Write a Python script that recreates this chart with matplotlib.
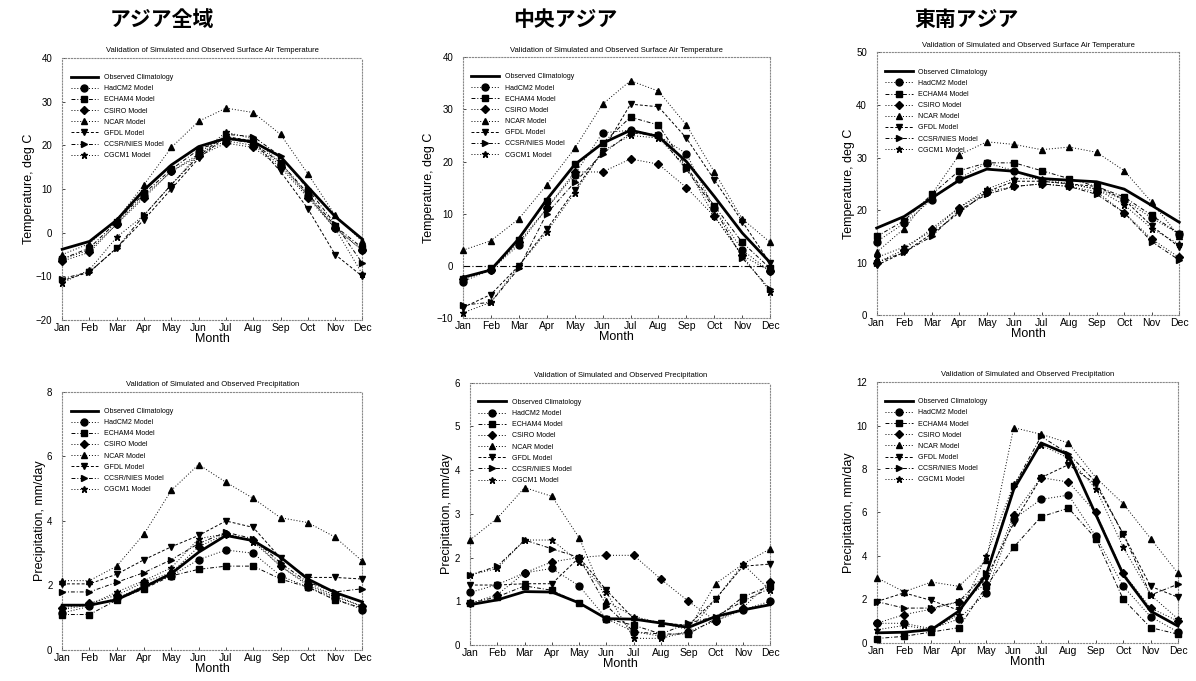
import matplotlib
matplotlib.use("Agg")
import matplotlib.pyplot as plt

plt.rcParams['font.family'] = ['Liberation Sans', 'DejaVu Sans']

months = ["Jan", "Feb", "Mar", "Apr", "May", "Jun", "Jul", "Aug", "Sep", "Oct", "Nov", "Dec"]
series_names = ["Observed Climatology", "HadCM2 Model", "ECHAM4 Model", "CSIRO Model",
                "NCAR Model", "GFDL Model", "CCSR/NIES Model", "CGCM1 Model"]
column_titles = ["アジア全域", "中央アジア", "東南アジア"]
temp_title = "Validation of Simulated and Observed Surface Air Temperature"
prec_title = "Validation of Simulated and Observed Precipitation"

# ---- Asia whole, temperature ----
t_asia_obs   = [-3.8, -2.0, 2.9, 9.8, 15.5, 19.7, 21.6, 20.8, 17.4, 10.5, 3.7, -1.5]
t_asia_had   = [-6.0, -4.0, 2.0, 8.5, 14.0, 18.0, 21.0, 20.0, 15.5, 8.5, 1.0, -4.0]
t_asia_ech   = [-6.0, -3.5, 2.5, 9.0, 14.5, 19.0, 21.5, 20.5, 16.0, 9.0, 1.5, -3.5]
t_asia_csi   = [-6.5, -4.5, 2.0, 8.0, 14.0, 17.5, 20.5, 19.5, 15.0, 8.0, 1.0, -4.0]
t_asia_ncar  = [-5.0, -2.5, 3.0, 11.0, 19.5, 25.5, 28.5, 27.5, 22.5, 13.5, 4.0, -2.0]
t_asia_gfdl  = [-11.0, -9.0, -3.5, 3.0, 10.0, 17.0, 22.0, 21.0, 14.0, 5.5, -5.0, -10.0]
t_asia_ccsr  = [-10.5, -9.0, -3.5, 4.0, 11.0, 17.5, 22.5, 22.0, 17.5, 10.0, 2.0, -7.0]
t_asia_cgcm  = [-11.5, -8.5, -1.0, 4.0, 11.0, 18.0, 23.0, 21.5, 16.0, 8.5, 1.0, -9.5]

# ---- Central Asia, temperature ----
t_cen_obs  = [-2.2, -0.8, 5.2, 12.7, 19.4, 23.5, 26.0, 24.8, 20.0, 13.3, 6.3, 0.6]
t_cen_had  = [-3.0, -0.8, 4.0, 11.0, 17.5, 25.5, 26.0, 25.0, 21.5, 11.0, 3.0, -1.0]
t_cen_ech  = [-2.5, -0.5, 5.0, 12.5, 19.5, 23.5, 28.5, 27.0, 19.0, 11.5, 4.5, -0.5]
t_cen_csi  = [-2.5, -0.8, 4.5, 11.0, 18.0, 18.0, 20.5, 19.5, 15.0, 9.5, 2.0, -1.0]
t_cen_ncar = [3.0, 4.8, 9.0, 15.5, 22.5, 31.0, 35.5, 33.5, 27.0, 18.0, 9.0, 4.5]
t_cen_gfdl = [-8.0, -5.5, 0.0, 7.0, 14.5, 22.0, 31.0, 30.5, 24.5, 16.5, 8.5, 0.5]
t_cen_ccsr = [-7.5, -7.0, -0.5, 10.0, 16.0, 21.5, 25.5, 25.0, 18.5, 11.0, 1.5, -4.5]
t_cen_cgcm = [-9.0, -7.0, 0.0, 6.5, 14.0, 22.0, 25.0, 24.5, 19.0, 9.5, 2.0, -5.0]

# ---- Southeast Asia, temperature ----
t_se_obs  = [16.6, 18.8, 22.3, 25.7, 27.8, 27.4, 26.0, 25.7, 25.4, 24.0, 20.9, 17.7]
t_se_had  = [14.0, 17.5, 22.0, 26.0, 29.0, 27.5, 25.5, 25.0, 24.0, 22.0, 18.5, 15.5]
t_se_ech  = [15.0, 18.0, 23.0, 27.5, 29.0, 29.0, 27.5, 26.0, 24.5, 22.5, 19.0, 15.5]
t_se_csi  = [10.0, 12.5, 16.5, 20.5, 23.5, 24.5, 25.0, 24.5, 23.5, 19.5, 14.5, 11.0]
t_se_ncar = [12.0, 16.5, 23.0, 30.5, 33.0, 32.5, 31.5, 32.0, 31.0, 27.5, 21.5, 15.0]
t_se_gfdl = [9.5, 12.0, 15.5, 19.5, 23.5, 25.5, 25.5, 25.0, 24.5, 22.0, 17.0, 13.0]
t_se_ccsr = [10.0, 12.0, 15.0, 20.0, 23.0, 24.5, 25.0, 24.5, 23.0, 19.5, 14.0, 10.5]
t_se_cgcm = [11.0, 13.0, 16.0, 20.5, 24.0, 26.0, 26.0, 25.0, 24.0, 21.0, 16.5, 13.5]

# ---- Asia whole, precipitation ----
p_asia_obs  = [1.39, 1.39, 1.56, 1.95, 2.37, 3.03, 3.55, 3.39, 2.88, 2.20, 1.78, 1.49]
p_asia_had  = [1.15, 1.35, 1.60, 2.00, 2.30, 2.80, 3.10, 3.00, 2.30, 1.95, 1.60, 1.25]
p_asia_ech  = [1.10, 1.10, 1.55, 1.90, 2.30, 2.50, 2.60, 2.60, 2.20, 1.95, 1.55, 1.30]
p_asia_csi  = [1.30, 1.45, 1.70, 2.10, 2.40, 3.20, 3.60, 3.40, 2.60, 2.05, 1.70, 1.35]
p_asia_ncar = [2.15, 2.15, 2.60, 3.60, 4.95, 5.75, 5.20, 4.70, 4.10, 3.95, 3.50, 2.75]
p_asia_gfdl = [2.05, 2.05, 2.35, 2.80, 3.20, 3.55, 4.00, 3.80, 2.85, 2.25, 2.25, 2.20]
p_asia_ccsr = [1.80, 1.80, 2.10, 2.40, 2.80, 3.30, 3.65, 3.45, 2.70, 2.10, 1.80, 1.90]
p_asia_cgcm = [1.25, 1.40, 1.80, 2.15, 2.55, 3.45, 3.60, 3.35, 2.60, 2.00, 1.65, 1.35]

# ---- Central Asia, precipitation ----
p_cen_obs  = [0.92, 1.03, 1.22, 1.21, 0.96, 0.60, 0.59, 0.50, 0.40, 0.65, 0.80, 0.92]
p_cen_had  = [1.20, 1.38, 1.65, 1.75, 1.35, 0.60, 0.30, 0.20, 0.30, 0.55, 0.80, 1.00]
p_cen_ech  = [0.95, 1.10, 1.35, 1.25, 0.95, 0.60, 0.45, 0.25, 0.25, 0.60, 1.10, 1.35]
p_cen_csi  = [0.95, 1.15, 1.65, 1.90, 2.00, 2.05, 2.05, 1.50, 1.00, 0.55, 0.85, 1.45]
p_cen_ncar = [2.40, 2.90, 3.60, 3.40, 2.45, 1.00, 0.65, 0.50, 0.35, 1.40, 1.85, 2.20]
p_cen_gfdl = [1.37, 1.37, 1.40, 1.40, 2.00, 1.25, 0.60, 0.50, 0.45, 1.05, 1.80, 1.85]
p_cen_ccsr = [1.60, 1.80, 2.40, 2.20, 2.00, 0.90, 0.30, 0.25, 0.50, 0.65, 1.00, 1.30]
p_cen_cgcm = [1.60, 1.75, 2.40, 2.40, 1.90, 1.20, 0.15, 0.15, 0.30, 1.05, 1.85, 1.25]

# ---- Southeast Asia, precipitation ----
p_se_obs  = [0.46, 0.49, 0.61, 1.46, 3.14, 7.05, 9.20, 8.66, 5.90, 3.14, 1.46, 0.77]
p_se_had  = [0.90, 0.90, 0.65, 1.10, 2.30, 5.70, 6.60, 6.80, 4.90, 2.60, 1.20, 0.50]
p_se_ech  = [0.20, 0.30, 0.50, 0.70, 2.60, 4.40, 5.80, 6.20, 4.80, 2.00, 0.70, 0.40]
p_se_csi  = [0.90, 1.30, 1.55, 1.90, 2.70, 5.90, 7.60, 7.40, 6.00, 3.20, 1.60, 1.00]
p_se_ncar = [3.00, 2.35, 2.80, 2.60, 3.80, 9.90, 9.60, 9.20, 7.60, 6.40, 4.80, 3.20]
p_se_gfdl = [1.90, 2.30, 1.95, 1.50, 3.00, 5.50, 7.60, 8.20, 7.30, 5.00, 2.60, 2.10]
p_se_ccsr = [1.90, 1.60, 1.60, 1.90, 3.20, 7.20, 9.50, 8.70, 7.40, 5.00, 2.20, 2.70]
p_se_cgcm = [0.60, 0.80, 0.60, 1.30, 4.00, 7.30, 9.10, 8.50, 7.10, 4.40, 2.20, 1.10]

panels = [
    dict(data=[t_asia_obs, t_asia_had, t_asia_ech, t_asia_csi, t_asia_ncar, t_asia_gfdl, t_asia_ccsr, t_asia_cgcm],
         title=temp_title, ylabel="Temperature, deg C", ylim=(-20, 40), yticks=[-20, -10, 0, 10, 20, 30, 40],
         pos=[0.052, 0.530, 0.251, 0.385], zero=False),
    dict(data=[t_cen_obs, t_cen_had, t_cen_ech, t_cen_csi, t_cen_ncar, t_cen_gfdl, t_cen_ccsr, t_cen_cgcm],
         title=temp_title, ylabel="Temperature, deg C", ylim=(-10, 40), yticks=[-10, 0, 10, 20, 30, 40],
         pos=[0.387, 0.533, 0.257, 0.383], zero=True),
    dict(data=[t_se_obs, t_se_had, t_se_ech, t_se_csi, t_se_ncar, t_se_gfdl, t_se_ccsr, t_se_cgcm],
         title=temp_title, ylabel="Temperature, deg C", ylim=(0, 50), yticks=[0, 10, 20, 30, 40, 50],
         pos=[0.733, 0.537, 0.253, 0.386], zero=False),
    dict(data=[p_asia_obs, p_asia_had, p_asia_ech, p_asia_csi, p_asia_ncar, p_asia_gfdl, p_asia_ccsr, p_asia_cgcm],
         title=prec_title, ylabel="Precipitation, mm/day", ylim=(0, 8), yticks=[0, 2, 4, 6, 8],
         pos=[0.052, 0.0455, 0.251, 0.379], zero=False),
    dict(data=[p_cen_obs, p_cen_had, p_cen_ech, p_cen_csi, p_cen_ncar, p_cen_gfdl, p_cen_ccsr, p_cen_cgcm],
         title=prec_title, ylabel="Precipitation, mm/day", ylim=(0, 6), yticks=[0, 1, 2, 3, 4, 5, 6],
         pos=[0.393, 0.053, 0.251, 0.385], zero=False),
    dict(data=[p_se_obs, p_se_had, p_se_ech, p_se_csi, p_se_ncar, p_se_gfdl, p_se_ccsr, p_se_cgcm],
         title=prec_title, ylabel="Precipitation, mm/day", ylim=(0, 12), yticks=[0, 2, 4, 6, 8, 10, 12],
         pos=[0.733, 0.056, 0.252, 0.383], zero=False),
]

styles = [
    dict(marker=None, ls='-', lw=2.0, ms=0),
    dict(marker='o', ls=(0, (1, 2)), lw=0.7, ms=5),
    dict(marker='s', ls=(0, (4, 2, 1, 2)), lw=0.7, ms=4.5),
    dict(marker='D', ls=(0, (1, 2)), lw=0.7, ms=4.5),
    dict(marker='^', ls=(0, (1, 2)), lw=0.7, ms=4),
    dict(marker='v', ls=(0, (3, 2)), lw=0.7, ms=4),
    dict(marker='>', ls=(0, (4, 2, 1, 2)), lw=0.7, ms=4),
    dict(marker='*', ls=(0, (1, 2)), lw=0.7, ms=5),
]

x = list(range(1, 13))
fig = plt.figure(figsize=(11.96, 6.81), dpi=100)

for i, p in enumerate(panels):
    ax = fig.add_axes(p['pos'])
    for name, vals, st in zip(series_names, p['data'], styles):
        ax.plot(x, vals, color='black', linestyle=st['ls'], linewidth=st['lw'],
                marker=st['marker'], markersize=st['ms'], label=name, clip_on=False, zorder=3)
    if p['zero']:
        ax.axhline(0, color='black', linestyle=(0, (6, 2, 1, 2)), linewidth=0.8)
    ax.set_xlim(1, 12)
    ax.set_ylim(*p['ylim'])
    ax.set_yticks(p['yticks'])
    ax.set_xticks(x)
    ax.set_xticklabels(months)
    ax.tick_params(axis='x', labelsize=7.5, direction='in', length=2, width=0.5, pad=2)
    ax.tick_params(axis='y', labelsize=7, direction='in', length=2, width=0.5, pad=7)
    for sp in ax.spines.values():
        sp.set_linestyle(':')
        sp.set_color('#888888')
        sp.set_linewidth(0.8)
    ax.set_title(p['title'], fontsize=5.5, pad=4)
    ax.set_ylabel(p['ylabel'], fontsize=9, labelpad=1)
    ax.set_xlabel("Month", fontsize=9, labelpad=0)
    ax.legend(loc='upper left', fontsize=5, frameon=False, handlelength=4,
              labelspacing=0.6, borderaxespad=0.8, bbox_to_anchor=(0.0, 0.97))

col_x = [0.135, 0.473, 0.808]
for cx, t in zip(col_x, column_titles):
    fig.text(cx, 0.972, t, ha='center', va='center', fontsize=15, fontweight='bold',
             family=['Noto Sans CJK JP', 'DejaVu Sans'])

fig.savefig("out.png", dpi=100)
